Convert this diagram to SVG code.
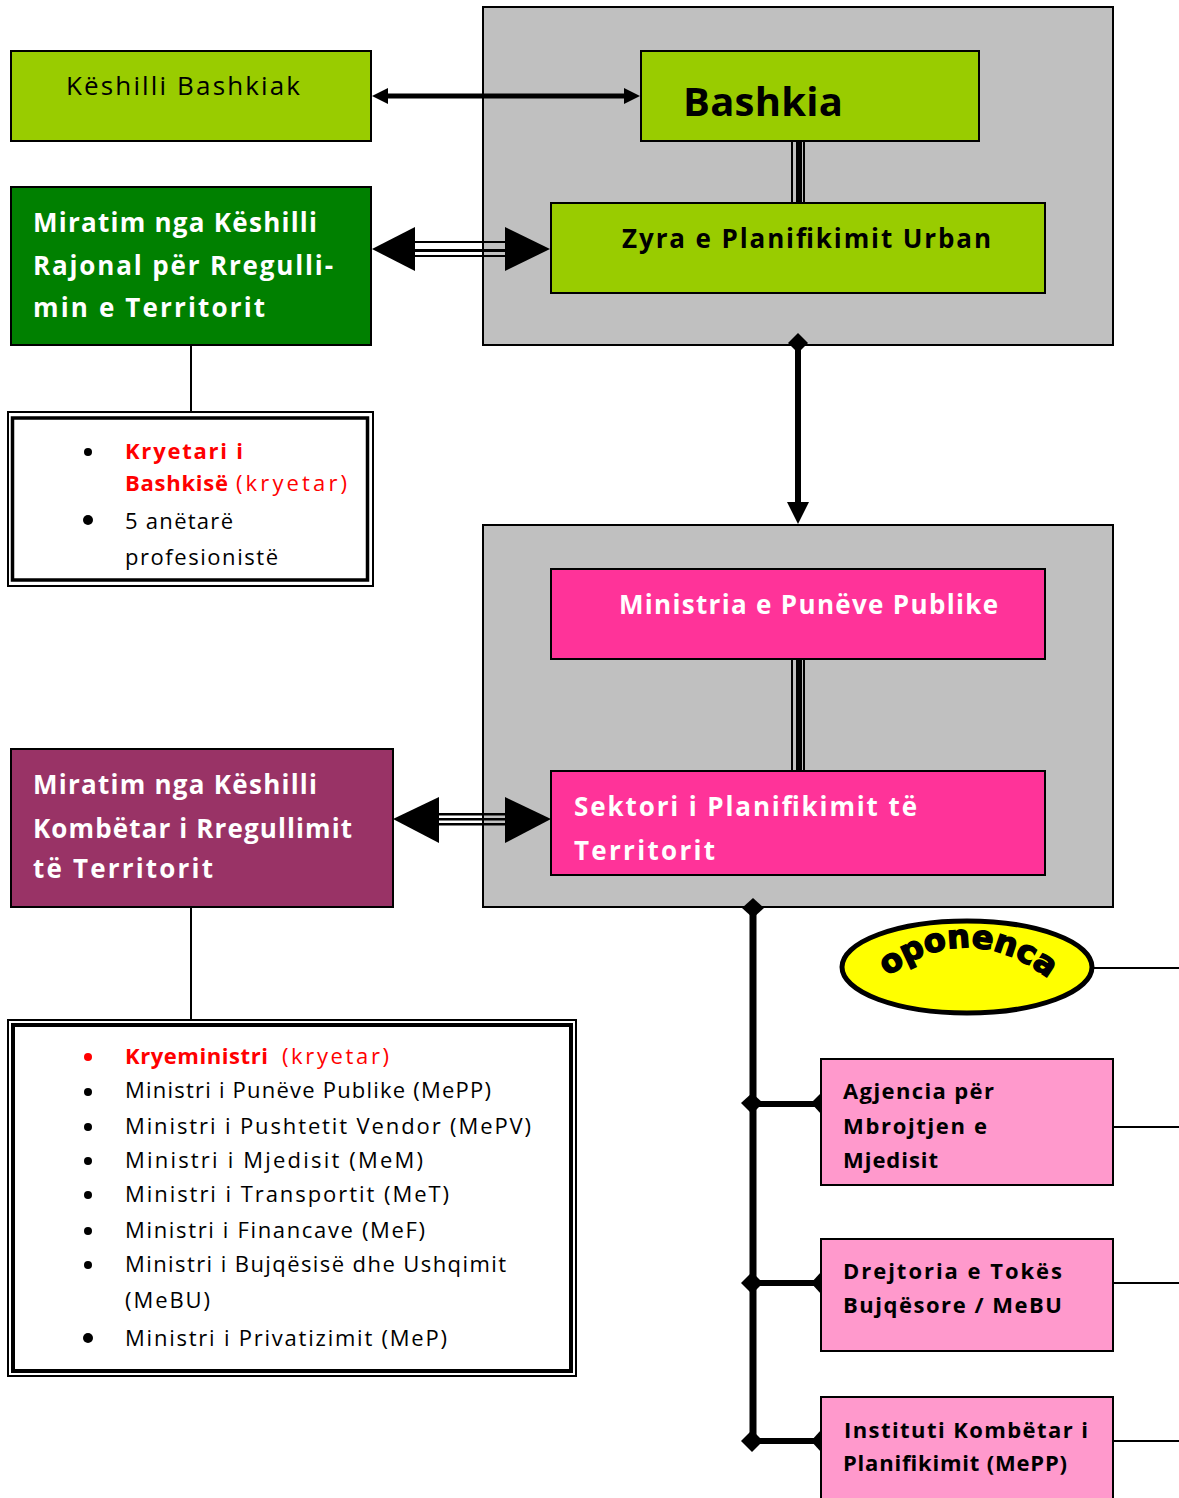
<svg xmlns="http://www.w3.org/2000/svg" width="1179" height="1498" viewBox="0 0 1179 1498">
<style>
.t{font-family:"Open Sans","Liberation Sans",Arial,sans-serif}
.b{font-weight:bold}
.w{fill:#fff}
.k{fill:#000}
.r{fill:#ff0000}
.h{font-size:26px}
.s{font-size:22px}
.box{stroke:#000;stroke-width:2}
.ln{stroke:#000;fill:none}
</style>
<defs>
<path id="arc" d="M 878,984 Q 967,910 1058,986"/>
</defs>
<rect width="1179" height="1498" fill="#fff"/>

<g id="panel-bashkia"><rect x="483" y="7" width="630" height="338" fill="#c0c0c0" class="box"/></g>
<g id="panel-ministria"><rect x="483" y="525" width="630" height="382" fill="#c0c0c0" class="box"/></g>

<g id="connectors">
  <line x1="384" y1="96" x2="626" y2="96" class="ln" stroke-width="5"/>
  <polygon points="372,96 388,88 388,104" fill="#000"/>
  <polygon points="640,96 624,88 624,104" fill="#000"/>
  <rect x="791" y="141" width="2" height="68" fill="#000"/>
  <rect x="796" y="141" width="6" height="68" fill="#000"/>
  <rect x="803" y="141" width="2" height="68" fill="#000"/>
  <rect x="412" y="241" width="96" height="2" fill="#000"/>
  <rect x="412" y="249" width="96" height="3" fill="#000"/>
  <rect x="412" y="255" width="96" height="2" fill="#000"/>
  <polygon points="372,249 415,227 415,271" fill="#000"/>
  <polygon points="550,249 505,227 505,271" fill="#000"/>
  <line x1="191" y1="345" x2="191" y2="413" class="ln" stroke-width="2"/>
  <line x1="798" y1="345" x2="798" y2="505" class="ln" stroke-width="6"/>
  <polygon points="798,333 808,343 798,353 788,343" fill="#000"/>
  <polygon points="787,502 809,502 798,524" fill="#000"/>
  <rect x="791" y="659" width="2" height="113" fill="#000"/>
  <rect x="796" y="659" width="6" height="113" fill="#000"/>
  <rect x="803" y="659" width="2" height="113" fill="#000"/>
  <rect x="436" y="813" width="72" height="2.5" fill="#000"/>
  <rect x="436" y="818" width="72" height="2.5" fill="#000"/>
  <rect x="436" y="823" width="72" height="2.5" fill="#000"/>
  <polygon points="393,819 439,797 439,843" fill="#000"/>
  <polygon points="551,819 505,797 505,843" fill="#000"/>
  <line x1="191" y1="907" x2="191" y2="1022" class="ln" stroke-width="2"/>
  <line x1="753" y1="908" x2="753" y2="1441" class="ln" stroke-width="7"/>
  <polygon points="753,898 764,908 753,918 742,908" fill="#000"/>
  <line x1="753" y1="1104" x2="821" y2="1104" class="ln" stroke-width="6"/>
  <polygon points="752,1093 763,1103 752,1114 741,1103" fill="#000"/>
  <polygon points="821,1093 831,1103 821,1114 811,1103" fill="#000"/>
  <line x1="753" y1="1283" x2="821" y2="1283" class="ln" stroke-width="6"/>
  <polygon points="752,1272 763,1283 752,1294 741,1283" fill="#000"/>
  <polygon points="821,1272 831,1283 821,1294 811,1283" fill="#000"/>
  <line x1="753" y1="1441" x2="821" y2="1441" class="ln" stroke-width="6"/>
  <polygon points="752,1430 763,1441 752,1452 741,1441" fill="#000"/>
  <polygon points="821,1430 831,1441 821,1452 811,1441" fill="#000"/>
  <line x1="1093" y1="968" x2="1179" y2="968" class="ln" stroke-width="2"/>
  <line x1="1113" y1="1127" x2="1179" y2="1127" class="ln" stroke-width="2"/>
  <line x1="1113" y1="1283" x2="1179" y2="1283" class="ln" stroke-width="2"/>
  <line x1="1113" y1="1441" x2="1179" y2="1441" class="ln" stroke-width="2"/>
</g>

<g id="keshilli-bashkiak">
  <rect x="11" y="51" width="360" height="90" fill="#99cc00" class="box"/>
  <text class="t h k" x="66" y="95" textLength="234" lengthAdjust="spacing">Këshilli Bashkiak</text>
</g>
<g id="bashkia">
  <rect x="641" y="51" width="338" height="90" fill="#99cc00" class="box"/>
  <text class="t b k" x="683" y="116" font-size="40" textLength="160" lengthAdjust="spacing">Bashkia</text>
</g>
<g id="zyra">
  <rect x="551" y="203" width="494" height="90" fill="#99cc00" class="box"/>
  <text class="t b h k" x="622" y="248" textLength="369" lengthAdjust="spacing">Zyra e Planifikimit Urban</text>
</g>
<g id="rajonal">
  <rect x="11" y="187" width="360" height="158" fill="#008000" class="box"/>
  <text class="t b h w" x="33" y="232" textLength="284" lengthAdjust="spacing">Miratim nga Këshilli</text>
  <text class="t b h w" x="33" y="275" textLength="300" lengthAdjust="spacing">Rajonal për Rregulli-</text>
  <text class="t b h w" x="33" y="317" textLength="232" lengthAdjust="spacing">min e Territorit</text>
</g>
<g id="list-rajonal">
  <rect x="8" y="412" width="365" height="174" fill="#fff" stroke="#000" stroke-width="2"/>
  <rect x="12.5" y="418" width="355" height="162" fill="none" stroke="#000" stroke-width="3.5"/>
  <circle cx="88" cy="452" r="4" fill="#000"/>
  <circle cx="88" cy="520" r="5" fill="#000"/>
  <text class="t b s r" x="125" y="459" textLength="118" lengthAdjust="spacing">Kryetari i</text>
  <text class="t b s r" x="125" y="491" textLength="103" lengthAdjust="spacing">Bashkisë</text>
  <text class="t s r" x="236" y="491" textLength="111" lengthAdjust="spacing">(kryetar)</text>
  <text class="t s k" x="125" y="529" textLength="108" lengthAdjust="spacing">5 anëtarë</text>
  <text class="t s k" x="125" y="565" textLength="153" lengthAdjust="spacing">profesionistë</text>
</g>
<g id="ministria">
  <rect x="551" y="569" width="494" height="90" fill="#ff3399" class="box"/>
  <text class="t b h w" x="619" y="614" textLength="379" lengthAdjust="spacing">Ministria e Punëve Publike</text>
</g>
<g id="sektori">
  <rect x="551" y="771" width="494" height="104" fill="#ff3399" class="box"/>
  <text class="t b h w" x="574" y="816" textLength="343" lengthAdjust="spacing">Sektori i Planifikimit të</text>
  <text class="t b h w" x="574" y="860" textLength="141" lengthAdjust="spacing">Territorit</text>
</g>
<g id="kombetar">
  <rect x="11" y="749" width="382" height="158" fill="#993366" class="box"/>
  <text class="t b h w" x="33" y="794" textLength="284" lengthAdjust="spacing">Miratim nga Këshilli</text>
  <text class="t b h w" x="33" y="838" textLength="319" lengthAdjust="spacing">Kombëtar i Rregullimit</text>
  <text class="t b h w" x="33" y="878" textLength="180" lengthAdjust="spacing">të Territorit</text>
</g>
<g id="list-kombetar">
  <rect x="8" y="1020" width="568" height="356" fill="#fff" stroke="#000" stroke-width="2"/>
  <rect x="13" y="1025" width="558" height="346" fill="none" stroke="#000" stroke-width="4"/>
  <circle cx="88" cy="1057" r="4" fill="#ff0000"/>
  <circle cx="88" cy="1092" r="4" fill="#000"/>
  <circle cx="88" cy="1127" r="4" fill="#000"/>
  <circle cx="88" cy="1161" r="4" fill="#000"/>
  <circle cx="88" cy="1195" r="4" fill="#000"/>
  <circle cx="88" cy="1231" r="4" fill="#000"/>
  <circle cx="88" cy="1265" r="4" fill="#000"/>
  <circle cx="88" cy="1338" r="5" fill="#000"/>
  <text class="t b s r" x="125" y="1064" textLength="143" lengthAdjust="spacing">Kryeministri</text>
  <text class="t s r" x="282" y="1064" textLength="107" lengthAdjust="spacing">(kryetar)</text>
  <text class="t s k" x="125" y="1098" textLength="366" lengthAdjust="spacing">Ministri i Punëve Publike (MePP)</text>
  <text class="t s k" x="125" y="1134" textLength="406" lengthAdjust="spacing">Ministri i Pushtetit Vendor (MePV)</text>
  <text class="t s k" x="125" y="1168" textLength="298" lengthAdjust="spacing">Ministri i Mjedisit (MeM)</text>
  <text class="t s k" x="125" y="1202" textLength="324" lengthAdjust="spacing">Ministri i Transportit (MeT)</text>
  <text class="t s k" x="125" y="1238" textLength="300" lengthAdjust="spacing">Ministri i Financave (MeF)</text>
  <text class="t s k" x="125" y="1272" textLength="381" lengthAdjust="spacing">Ministri i Bujqësisë dhe Ushqimit</text>
  <text class="t s k" x="125" y="1308" textLength="85" lengthAdjust="spacing">(MeBU)</text>
  <text class="t s k" x="125" y="1346" textLength="322" lengthAdjust="spacing">Ministri i Privatizimit (MeP)</text>
</g>
<g id="oponenca">
  <ellipse cx="967" cy="967" rx="125" ry="46" fill="#ffff00" stroke="#000" stroke-width="5"/>
  <text font-family="'DejaVu Sans',sans-serif" font-weight="900" font-size="32" fill="#000" stroke="#000" stroke-width="1.5"><textPath href="#arc" startOffset="50%" text-anchor="middle">oponenca</textPath></text>
</g>
<g id="agjencia">
  <rect x="821" y="1059" width="292" height="126" fill="#ff99cc" class="box"/>
  <text class="t b s k" x="843" y="1099" textLength="151" lengthAdjust="spacing">Agjencia për</text>
  <text class="t b s k" x="843" y="1134" textLength="144" lengthAdjust="spacing">Mbrojtjen e</text>
  <text class="t b s k" x="843" y="1168" textLength="95" lengthAdjust="spacing">Mjedisit</text>
</g>
<g id="drejtoria">
  <rect x="821" y="1239" width="292" height="112" fill="#ff99cc" class="box"/>
  <text class="t b s k" x="843" y="1279" textLength="219" lengthAdjust="spacing">Drejtoria e Tokës</text>
  <text class="t b s k" x="843" y="1313" textLength="219" lengthAdjust="spacing">Bujqësore / MeBU</text>
</g>
<g id="instituti">
  <rect x="821" y="1397" width="292" height="110" fill="#ff99cc" class="box"/>
  <text class="t b s k" x="844" y="1438" textLength="244" lengthAdjust="spacing">Instituti Kombëtar i</text>
  <text class="t b s k" x="843" y="1471" textLength="224" lengthAdjust="spacing">Planifikimit (MePP)</text>
</g>
</svg>
